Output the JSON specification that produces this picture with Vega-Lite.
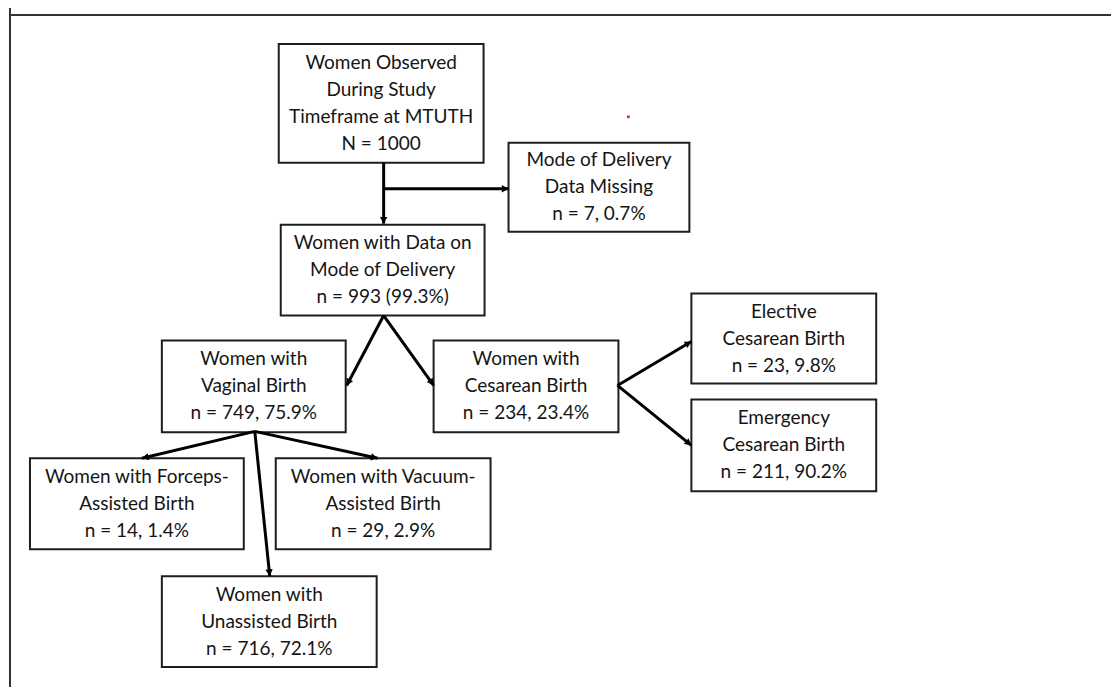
{
  "$schema": "https://vega.github.io/schema/vega-lite/v6.json",
  "autosize": {"type": "fit", "contains": "padding"},
  "width": 1112,
  "height": 688,
  "padding": 0,
  "background": "white",
  "config": {"view": {"stroke": null}, "axis": {"disable": true}},
  "datasets": {
    "boxes": [
      {"x": 279, "x2": 484, "y": 44, "y2": 163, "label": "Women Observed\nDuring Study\nTimeframe at MTUTH\nN = 1000"},
      {"x": 509, "x2": 690, "y": 143, "y2": 232, "label": "Mode of Delivery\nData Missing\nn = 7, 0.7%"},
      {"x": 281, "x2": 485, "y": 225, "y2": 316, "label": "Women with Data on\nMode of Delivery\nn = 993 (99.3%)"},
      {"x": 162, "x2": 346, "y": 341, "y2": 433, "label": "Women with\nVaginal Birth\nn = 749, 75.9%"},
      {"x": 434, "x2": 619, "y": 341, "y2": 433, "label": "Women with\nCesarean Birth\nn = 234, 23.4%"},
      {"x": 692, "x2": 877, "y": 294, "y2": 384, "label": "Elective\nCesarean Birth\nn = 23, 9.8%"},
      {"x": 692, "x2": 877, "y": 400, "y2": 492, "label": "Emergency\nCesarean Birth\nn = 211, 90.2%"},
      {"x": 30, "x2": 244, "y": 459, "y2": 550, "label": "Women with Forceps-\nAssisted Birth\nn = 14, 1.4%"},
      {"x": 276, "x2": 491, "y": 459, "y2": 550, "label": "Women with Vacuum-\nAssisted Birth\nn = 29, 2.9%"},
      {"x": 162, "x2": 377, "y": 577, "y2": 668, "label": "Women with\nUnassisted Birth\nn = 716, 72.1%"}
    ],
    "arrows": [
      {"x": 384, "y": 163, "x2": 384, "y2": 224},
      {"x": 384, "y": 189, "x2": 509, "y2": 189},
      {"x": 384, "y": 316, "x2": 347, "y2": 386},
      {"x": 384, "y": 316, "x2": 434, "y2": 386},
      {"x": 618, "y": 386, "x2": 692, "y2": 342},
      {"x": 618, "y": 386, "x2": 692, "y2": 446},
      {"x": 255, "y": 432, "x2": 142, "y2": 459},
      {"x": 255, "y": 432, "x2": 378, "y2": 459},
      {"x": 255, "y": 432, "x2": 270, "y2": 577}
    ],
    "border": [
      {"x": 10, "y": 15, "x2": 1112, "y2": 15},
      {"x": 10, "y": 8, "x2": 10, "y2": 688}
    ],
    "dots": [{"x": 629, "y": 117}]
  },
  "layer": [
    {
      "data": {"name": "border"},
      "mark": {"type": "rule", "stroke": "#333333", "strokeWidth": 2},
      "encoding": {
        "x": {"field": "x", "type": "quantitative", "scale": {"domain": [0, 1112], "nice": false, "zero": false}},
        "x2": {"field": "x2"},
        "y": {"field": "y", "type": "quantitative", "scale": {"domain": [0, 688], "nice": false, "zero": false, "reverse": true}},
        "y2": {"field": "y2"}
      }
    },
    {
      "data": {"name": "boxes"},
      "mark": {"type": "rect", "fill": "white", "stroke": "#1e1e1e", "strokeWidth": 2},
      "encoding": {
        "x": {"field": "x", "type": "quantitative", "scale": {"domain": [0, 1112], "nice": false, "zero": false}},
        "x2": {"field": "x2"},
        "y": {"field": "y", "type": "quantitative", "scale": {"domain": [0, 688], "nice": false, "zero": false, "reverse": true}},
        "y2": {"field": "y2"}
      }
    },
    {
      "data": {"name": "arrows"},
      "mark": {"type": "rule", "stroke": "#000000", "strokeWidth": 3},
      "encoding": {
        "x": {"field": "x", "type": "quantitative", "scale": {"domain": [0, 1112], "nice": false, "zero": false}},
        "x2": {"field": "x2"},
        "y": {"field": "y", "type": "quantitative", "scale": {"domain": [0, 688], "nice": false, "zero": false, "reverse": true}},
        "y2": {"field": "y2"}
      }
    },
    {
      "data": {"name": "arrows"},
      "transform": [
        {"calculate": "atan2(datum.x2 - datum.x, datum.y2 - datum.y) * 180 / PI", "as": "raw"},
        {"calculate": "180 - datum.raw", "as": "ang"}
      ],
      "mark": {"type": "point", "shape": "M0,0L-0.6,1.1L0.6,1.1Z", "filled": true, "color": "#000000", "size": 150, "opacity": 1},
      "encoding": {
        "x": {"field": "x2", "type": "quantitative", "scale": {"domain": [0, 1112], "nice": false, "zero": false}},
        "y": {"field": "y2", "type": "quantitative", "scale": {"domain": [0, 688], "nice": false, "zero": false, "reverse": true}},
        "angle": {"field": "ang", "type": "quantitative", "scale": null}
      }
    },
    {
      "data": {"name": "boxes"},
      "transform": [
        {"calculate": "(datum.x + datum.x2) / 2", "as": "cx"},
        {"calculate": "(datum.y + datum.y2) / 2 - (length(split(datum.label, '\\n')) - 1) * 13.5", "as": "cy"}
      ],
      "mark": {"type": "text", "font": "Lato", "fontSize": 19, "lineHeight": 27, "lineBreak": "\n", "align": "center", "baseline": "middle", "color": "#151515"},
      "encoding": {
        "x": {"field": "cx", "type": "quantitative", "scale": {"domain": [0, 1112], "nice": false, "zero": false}},
        "y": {"field": "cy", "type": "quantitative", "scale": {"domain": [0, 688], "nice": false, "zero": false, "reverse": true}},
        "text": {"field": "label", "type": "nominal"}
      }
    },
    {
      "data": {"name": "dots"},
      "mark": {"type": "square", "color": "#e02020", "size": 7, "opacity": 1},
      "encoding": {
        "x": {"field": "x", "type": "quantitative", "scale": {"domain": [0, 1112], "nice": false, "zero": false}},
        "y": {"field": "y", "type": "quantitative", "scale": {"domain": [0, 688], "nice": false, "zero": false, "reverse": true}}
      }
    }
  ]
}
